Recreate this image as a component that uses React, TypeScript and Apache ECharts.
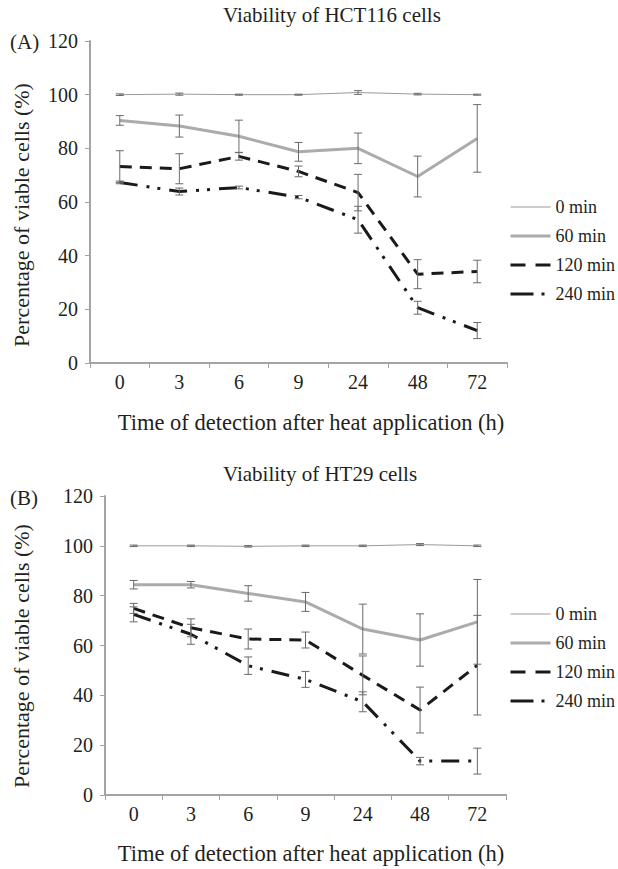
import React, { useEffect, useRef } from "react";
import * as echarts from "echarts";

const categories = ["0", "3", "6", "9", "24", "48", "72"];
const seriesNames = ["0 min", "60 min", "120 min", "240 min"];
const yTicks = [0, 20, 40, 60, 80, 100, 120];

// Panel A: HCT116
const hct0 = [100, 100.2, 100, 100, 100.8, 100.2, 100];
const hct0Err = [0.3, 0.4, 0.2, 0.2, 0.7, 0.3, 0.2];
const hct60 = [90.4, 88.3, 84.5, 78.7, 80.0, 69.5, 83.7];
const hct60Err = [1.8, 4.1, 6.0, 3.5, 5.7, 7.6, 12.6];
const hct120 = [73.2, 72.4, 77.0, 71.4, 63.5, 33.1, 34.1];
const hct120Err = [5.9, 5.6, 1.4, 2.0, 6.8, 5.4, 4.2];
const hct240 = [67.3, 63.9, 65.4, 61.8, 53.4, 20.6, 12.1];
const hct240Err = [0.5, 1.3, 0.5, 0.6, 5.0, 2.4, 3.0];

// Panel B: HT29
const ht0 = [100, 100, 99.8, 100, 100, 100.5, 100];
const ht0Err = [0.3, 0.3, 0.3, 0.3, 0.3, 0.4, 0.3];
const ht60 = [84.4, 84.4, 80.9, 77.5, 66.6, 62.2, 69.5];
const ht60Err = [1.7, 1.3, 3.1, 3.8, 10.0, 10.5, 17.0];
const ht120 = [74.9, 67.1, 62.6, 62.2, 48.0, 34.1, 52.1];
const ht120Err = [2.0, 3.6, 4.0, 3.2, 7.8, 9.2, 20.0];
const ht240 = [72.5, 64.5, 51.9, 46.4, 37.4, 13.6, 13.6];
const ht240Err = [3.0, 4.0, 3.5, 3.2, 4.0, 1.5, 5.2];

const FONT = "'Liberation Serif', 'DejaVu Serif', serif";
const TXT = "#231f20";
const AXIS = "#a3a3a3";

const lineStyles = [
  { color: "#9a9a9a", width: 1, type: "solid" as any },
  { color: "#ababab", width: 3, type: "solid" as any },
  { color: "#1a1a1a", width: 3, type: [12, 8] as any },
  { color: "#1a1a1a", width: 3, type: [18, 9, 3, 8, 3, 9] as any },
];
const legendDash = ["solid", "solid", [15, 10], [23, 8, 3, 20]];

function errData(vals: number[][], errs: number[][]) {
  const out: number[][] = [];
  vals.forEach((v, s) => {
    v.forEach((y, i) => {
      out.push([i, y - errs[s][i], y + errs[s][i]]);
    });
  });
  return out;
}

const renderErr = (params: any, api: any) => {
  const x = api.value(0);
  const top = api.coord([x, api.value(2)]);
  const bot = api.coord([x, api.value(1)]);
  const w = 4;
  const style = { stroke: "#6a6a6a", lineWidth: 1 };
  return {
    type: "group",
    children: [
      { type: "line", shape: { x1: top[0], y1: top[1], x2: bot[0], y2: bot[1] }, style },
      { type: "line", shape: { x1: top[0] - w, y1: top[1], x2: top[0] + w, y2: top[1] }, style },
      { type: "line", shape: { x1: bot[0] - w, y1: bot[1], x2: bot[0] + w, y2: bot[1] }, style },
    ],
  };
};

export default function App() {
  const ref = useRef<HTMLDivElement>(null);
  useEffect(() => {
    if (!ref.current) return;
    const chart = echarts.init(ref.current, undefined, { renderer: "svg" });
    const panels = [
      { vals: [hct0, hct60, hct120, hct240], errs: [hct0Err, hct60Err, hct120Err, hct240Err] },
      { vals: [ht0, ht60, ht120, ht240], errs: [ht0Err, ht60Err, ht120Err, ht240Err] },
    ];
    const xAxisBase = (gridIndex: number) => ({
      type: "category",
      gridIndex,
      data: categories,
      boundaryGap: true,
      axisLine: { show: true, lineStyle: { color: AXIS, width: 2 } },
      axisTick: { show: true, length: 5, lineStyle: { color: AXIS, width: 1 } },
      axisLabel: { color: TXT, fontFamily: FONT, fontSize: 20, margin: 9 },
      splitLine: { show: false },
    });
    const yAxisBase = (gridIndex: number) => ({
      type: "value",
      gridIndex,
      min: 0,
      max: 120,
      interval: 20,
      axisLine: { show: true, lineStyle: { color: AXIS, width: 2 } },
      axisTick: { show: true, length: 5, lineStyle: { color: AXIS, width: 1 } },
      axisLabel: {
        color: TXT,
        fontFamily: FONT,
        fontSize: 20,
        margin: 12,
        formatter: (v: number) => (yTicks.includes(v) ? String(v) : ""),
      },
      splitLine: { show: false },
    });
    const series: any[] = [];
    panels.forEach((p, pi) => {
      p.vals.forEach((v, si) => {
        series.push({
          type: "line",
          name: seriesNames[si],
          xAxisIndex: pi,
          yAxisIndex: pi,
          data: v,
          symbol: "none",
          showSymbol: false,
          itemStyle: { color: lineStyles[si].color },
          lineStyle: lineStyles[si],
          z: 2,
        });
      });
      series.push({
        type: "custom",
        name: "err" + pi,
        xAxisIndex: pi,
        yAxisIndex: pi,
        renderItem: renderErr,
        encode: { x: 0, y: [1, 2] },
        data: errData(p.vals, p.errs),
        z: 3,
        silent: true,
      });
    });
    const legendBase = (top: number) => ({
      data: seriesNames.map((name, i) => ({
        name,
        lineStyle: {
          width: lineStyles[i].width,
          color: lineStyles[i].color,
          type: legendDash[i],
        },
      })),
      orient: "vertical",
      left: 509,
      top,
      padding: 0,
      itemWidth: 40,
      itemHeight: 14,
      itemGap: 11,
      itemStyle: { opacity: 0 },
      textStyle: { color: TXT, fontFamily: FONT, fontSize: 18, lineHeight: 18 },
      selectedMode: false,
    });
    const textStyle = (size: number) => ({ fill: TXT, font: `${size}px ${FONT}` });
    chart.setOption({
      animation: false,
      backgroundColor: "#ffffff",
      grid: [
        { left: 90, right: 111, top: 41, bottom: 506, containLabel: false },
        { left: 105, right: 112, top: 496, bottom: 74, containLabel: false },
      ],
      xAxis: [xAxisBase(0), xAxisBase(1)],
      yAxis: [yAxisBase(0), yAxisBase(1)],
      legend: [legendBase(198), legendBase(605)],
      series,
      graphic: [
        { type: "text", left: 223, top: 4, style: { text: "Viability of HCT116 cells", ...textStyle(21) } },
        { type: "text", left: 223, top: 463, style: { text: "Viability of HT29 cells", ...textStyle(21) } },
        { type: "text", left: 10, top: 31, style: { text: "(A)", ...textStyle(21) } },
        { type: "text", left: 10, top: 487, style: { text: "(B)", ...textStyle(21) } },
        {
          type: "text",
          x: 21,
          y: 215,
          rotation: Math.PI / 2,
          style: { text: "Percentage of viable cells (%)", align: "center", verticalAlign: "middle", ...textStyle(22) },
        },
        {
          type: "text",
          x: 21,
          y: 656,
          rotation: Math.PI / 2,
          style: { text: "Percentage of viable cells (%)", align: "center", verticalAlign: "middle", ...textStyle(22) },
        },
        {
          type: "text",
          x: 311,
          y: 422,
          style: { text: "Time of detection after heat application (h)", align: "center", verticalAlign: "middle", ...textStyle(22.5) },
        },
        {
          type: "text",
          x: 311,
          y: 853,
          style: { text: "Time of detection after heat application (h)", align: "center", verticalAlign: "middle", ...textStyle(22.5) },
        },
      ],
    });
    return () => chart.dispose();
  }, []);
  return (
    <div
      ref={ref}
      style={{ position: "fixed", left: 0, top: 0, width: 618, height: 869, background: "#fff" }}
    />
  );
}
